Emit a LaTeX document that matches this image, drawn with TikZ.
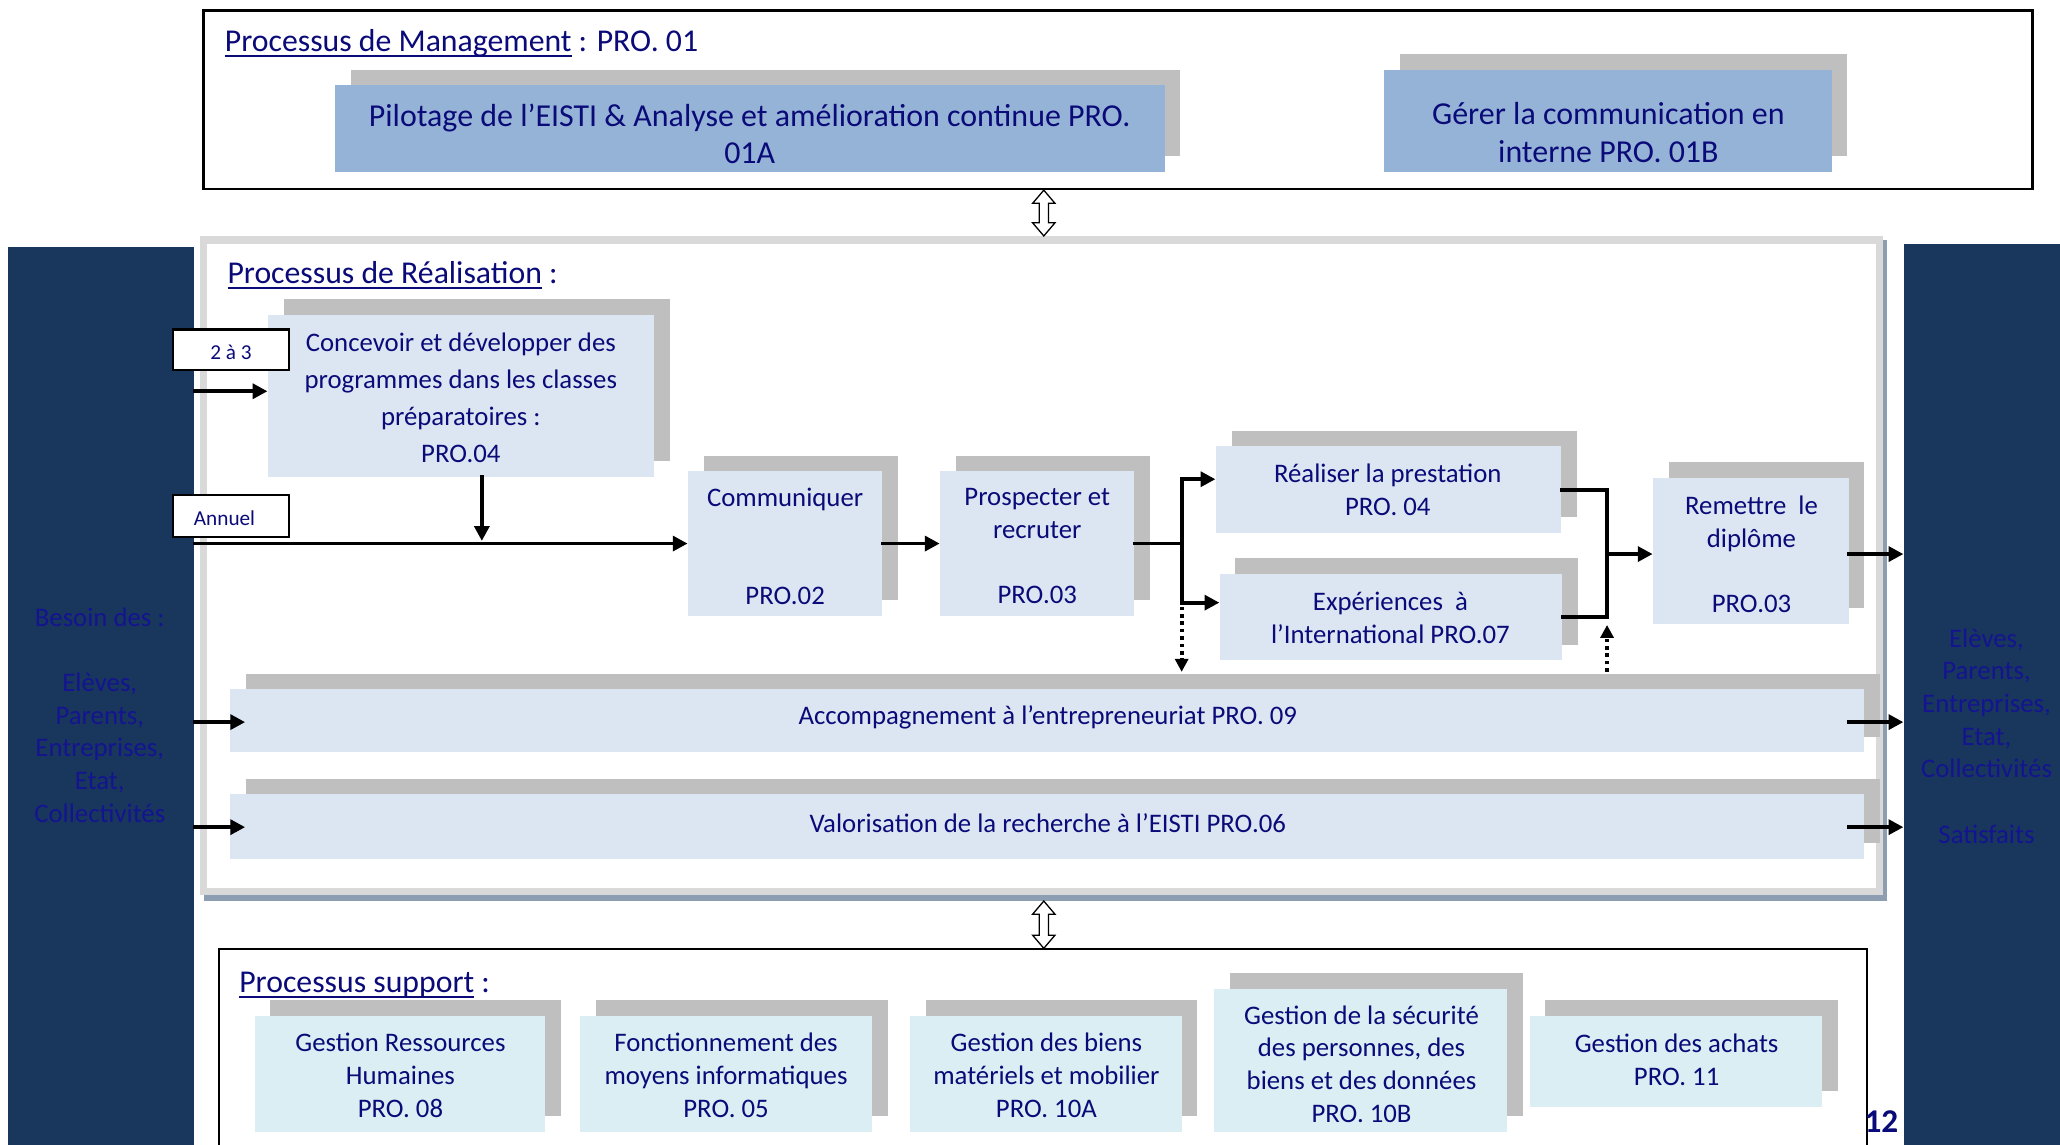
\documentclass[tikz,border=0pt]{standalone}
\usepackage{fontspec}
\setmainfont{Carlito}
\newcommand{\uln}[1]{\mbox{\setbox0\hbox{#1}\rlap{\rule[-3pt]{\wd0}{1.2pt}}\box0}}
\usetikzlibrary{fit,calc,arrows.meta}
\definecolor{navytext}{RGB}{10,10,120}
\definecolor{bartext}{RGB}{20,20,145}
\definecolor{barblue}{RGB}{25,54,93}
\definecolor{pilotfill}{RGB}{149,179,215}
\definecolor{lightfill}{RGB}{220,230,242}
\definecolor{supfill}{RGB}{218,238,243}
\definecolor{shadowgray}{RGB}{191,191,191}
\definecolor{framegray}{RGB}{217,217,217}
\definecolor{framedark}{RGB}{142,158,178}
\newcommand{\procbox}[6]{%
  \fill[shadowgray] (#2+12,#3-12) rectangle (#4+12,#5-12);
  \node[fit={(#2,#3)(#4,#5)}, inner sep=0pt, fill=#6] (#1) {};
}
\newcommand{\dblarrow}[2]{%
  \draw[fill=white, line width=0.7pt, line join=miter] (#1) -- ($(#1)+(8.5,10)$) -- ($(#1)+(3.5,10)$)
    -- ($(#2)+(3.5,-10)$) -- ($(#2)+(8.5,-10)$) -- (#2) -- ($(#2)+(-8.5,-10)$) -- ($(#2)+(-3.5,-10)$)
    -- ($(#1)+(-3.5,10)$) -- ($(#1)+(-8.5,10)$) -- cycle;
}
\begin{document}
\begin{tikzpicture}[x=0.025cm,y=-0.025cm,
  txt/.style={text=navytext, align=center, inner sep=0pt, font=\fontsize{14.5}{17.7}\selectfont},
  bigtxt/.style={txt, font=\fontsize{17.3}{20.5}\selectfont},
  titletxt/.style={text=navytext, inner sep=0pt, anchor=base west, font=\fontsize{17.2}{20}\selectfont},
  bartxt/.style={txt, text=bartext},
  tagbox/.style={draw=black, line width=1.2pt, fill=white, text=navytext, inner sep=0pt, font=\fontsize{11.5}{13}\selectfont},
  ln/.style={line width=2.1pt, line cap=rect},
  arr/.style={line width=2.1pt, line cap=rect, -{Triangle[length=8pt,width=8pt]}},
  dotarr/.style={line width=2pt, dash pattern=on 2pt off 2pt, -{Triangle[length=7pt,width=7pt]}},
]
\useasboundingbox (0,0) rectangle (1569,872);
\clip (0,0) rectangle (1569,872);
\fill[white] (0,0) rectangle (1569,872);

% side bars
\node[fit={(6,188)(148,880)}, inner sep=0pt, fill=barblue] (lbar) {};
\node[fit={(1450,186)(1569,880)}, inner sep=0pt, fill=barblue] (rbar) {};
\node[bartxt] (besoin) at (76,470) {Besoin des :};
\node[bartxt] (lclients) at (76,569.5) {Elèves,\\Parents,\\Entreprises,\\Etat,\\Collectivités};
\node[bartxt] (rclients) at (1513,560.5) {Elèves,\\Parents,\\Entreprises,\\Etat,\\Collectivités\\\mbox{}\\Satisfaits};

% management frame
\node[fit={(155,8)(1548,144)}, inner sep=0pt, draw=black, line width=1.2pt] (mgmt) {};
\node[titletxt] (t-mgmt) at (171,39) {\uln{Processus de Management} : PRO. 01};
\procbox{pilot}{255}{65}{887}{131}{pilotfill}
\node[bigtxt] (t-pilot) at (571,102) {Pilotage de l’EISTI \& Analyse et amélioration continue PRO.\\01A};
\procbox{gerer}{1054}{53}{1395}{131}{pilotfill}
\node[bigtxt] (t-gerer) at (1225,101) {Gérer la communication en\\interne PRO. 01B};

% realisation frame
\fill[framedark] (155,183) rectangle (1437,686);
\fill[framegray] (152,180) rectangle (1434.5,682);
\fill[white] (158,186) rectangle (1429,676);
\node[fit={(152,180)(1437,686)}, inner sep=0pt] (real) {};
\node[titletxt] (t-real) at (173,216) {\uln{Processus de Réalisation} :};

\procbox{conc}{204}{240}{498}{363}{lightfill}
\node[txt, font=\fontsize{14.5}{20}\selectfont] (t-conc) at (351,303) {Concevoir et développer des\\programmes dans les classes\\préparatoires :\\PRO.04};
\procbox{comm}{524}{359}{672}{469}{lightfill}
\node[txt] (t-comm) at (598,416) {Communiquer\\\mbox{}\\\mbox{}\\PRO.02};
\procbox{prosp}{716}{359}{864}{469}{lightfill}
\node[txt] (t-prosp) at (790,416) {Prospecter et\\recruter\\\mbox{}\\PRO.03};
\procbox{reali}{926}{340}{1189}{406}{lightfill}
\node[txt] (t-reali) at (1057,373) {Réaliser la prestation\\PRO. 04};
\procbox{exper}{929}{437}{1190}{503}{lightfill}
\node[txt] (t-exper) at (1059,470.5) {Expériences\ \ à\\l’International PRO.07};
\procbox{remet}{1259}{364}{1408}{475}{lightfill}
\node[txt] (t-remet) at (1334,422.5) {Remettre\ \ le\\diplôme\\\mbox{}\\PRO.03};
\procbox{accomp}{175}{525}{1420}{573}{lightfill}
\node[txt] (t-accomp) at (798,546) {Accompagnement à l’entrepreneuriat PRO. 09};
\procbox{valor}{175}{605}{1420}{654}{lightfill}
\node[txt] (t-valor) at (798,627) {Valorisation de la recherche à l’EISTI PRO.06};

\node[tagbox, fit={(132,251)(220,282)}] (tag23) {};
\node[tagbox, draw=none, fill=none] (t-tag23) at (176,268) {2 à 3};
\node[tagbox, fit={(132,377)(220,409)}] (tagan) {};
\node[tagbox, draw=none, fill=none] (t-tagan) at (171,395) {Annuel};

% support frame
\node[fit={(167,723)(1422,890)}, inner sep=0pt, draw=black, line width=1pt] (supp) {};
\node[titletxt] (t-supp) at (182,756) {\uln{Processus support} :};
\procbox{grh}{194}{774}{415}{862}{supfill}
\node[txt] (t-grh) at (305,819) {Gestion Ressources\\Humaines\\PRO. 08};
\procbox{finfo}{442}{774}{664}{862}{supfill}
\node[txt] (t-finfo) at (553,819) {Fonctionnement des\\moyens informatiques\\PRO. 05};
\procbox{gbiens}{693}{774}{900}{862}{supfill}
\node[txt] (t-gbiens) at (797,819) {Gestion des biens\\matériels et mobilier\\PRO. 10A};
\procbox{gsecu}{925}{753}{1148}{862}{supfill}
\node[txt] (t-gsecu) at (1037,810.5) {Gestion de la sécurité\\des personnes, des\\biens et des données\\PRO. 10B};
\procbox{gachat}{1165}{774}{1388}{843}{supfill}
\node[txt] (t-gachat) at (1277,807) {Gestion des achats\\PRO. 11};

\node[text=navytext, inner sep=0pt, font=\fontsize{18}{20}\selectfont\bfseries] (pagenum) at (1433,854) {12};

% connectors
\coordinate (dx) at (795,0);
\coordinate (da1) at (dx |- mgmt.south);
\coordinate (da2) at (dx |- real.north);
\coordinate (db1) at (dx |- real.south);
\coordinate (db2) at (dx |- supp.north);
\dblarrow{da1}{da2}
\dblarrow{db1}{db2}

\draw[arr] (lbar.east |- 0,298) -- (conc.west |- 0,298);
\coordinate (cv) at ($(conc.south)+(16,0)$);
\draw[arr] (cv) -- ($(cv |- comm.west)+(0,-2)$);
\draw[arr] (lbar.east |- comm.west) -- (comm.west);
\draw[arr] (comm.east) -- (prosp.west);

\coordinate (split) at (900,414);
\coordinate (sTop) at (900,365);
\coordinate (sBot) at (900,459);
\draw[ln] (prosp.east) -- (split);
\draw[arr] (sBot) -- (sTop) -- (reali.west |- sTop);
\draw[arr] (sTop) -- (sBot) -- (exper.west |- sBot);
\coordinate (accShTop) at ($(accomp.north)+(0,-13)$);
\draw[dotarr] ($(sBot)+(0,3)$) -- (sBot |- accShTop);

\coordinate (mx) at (1224,0);
\draw[ln] (reali.east) -- (reali.east -| mx) -- (exper.east -| mx) -- (exper.east);
\draw[arr] (mx |- 0,422) -- (remet.west |- 0,422);
\draw[dotarr] (mx |- accShTop) -- ($(exper.east -| mx)+(0,6)$);
\draw[arr] (remet.east |- 0,422) -- (rbar.west |- 0,422);

\draw[arr] (lbar.east |- 0,550) -- ($(accomp.west |- 0,550)+(12,0)$);
\draw[arr] ($(accomp.east |- 0,550)+(-12,0)$) -- (rbar.west |- 0,550);
\draw[arr] (lbar.east |- 0,630) -- ($(valor.west |- 0,630)+(12,0)$);
\draw[arr] ($(valor.east |- 0,630)+(-12,0)$) -- (rbar.west |- 0,630);
\end{tikzpicture}
\end{document}
